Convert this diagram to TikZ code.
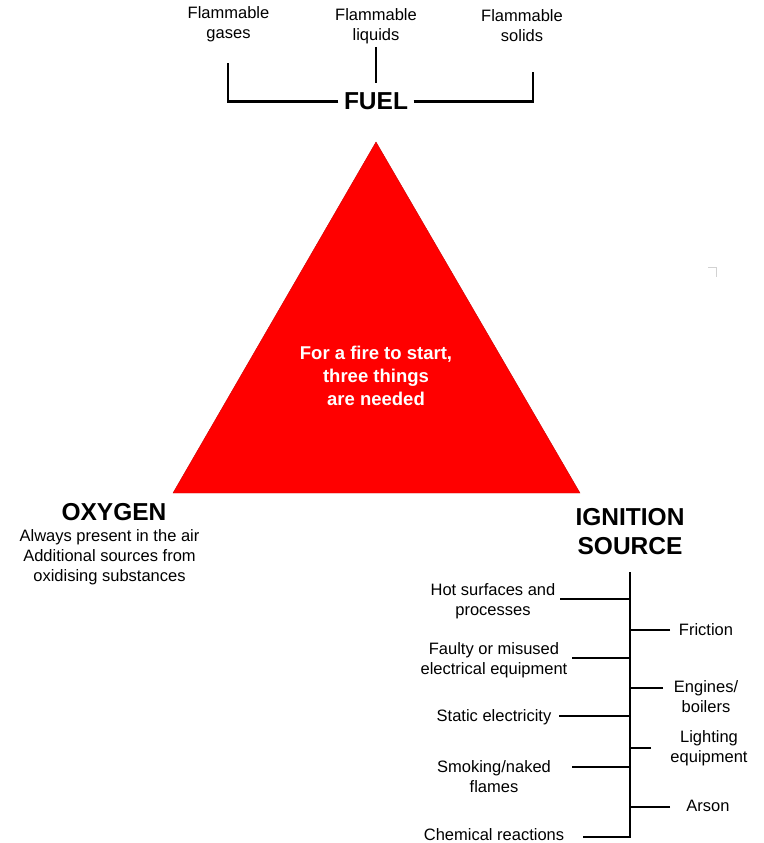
\documentclass[tikz,border=0pt]{standalone}
\usepackage{fontspec}
\setmainfont{Liberation Sans}
\definecolor{firered}{RGB}{255,0,0}
\begin{document}
\begin{tikzpicture}[
        x=1pt, y=-1pt,
        itemtext/.style={
            align=center,
            inner sep=1pt,
            font=\fontsize{16.5}{20}\selectfont
        },
        heading/.style={
            align=center,
            inner sep=5.5pt,
            font=\fontsize{24.5}{29}\selectfont\bfseries
        },
        inside/.style={
            align=center,
            text=white,
            font=\fontsize{18.5}{23}\selectfont\bfseries
        },
        bar/.style={line width=2.8pt, line join=miter}
    ]

    \useasboundingbox (0,0) rectangle (763,843);

    \coordinate (apex) at (376,142);
    \coordinate (oxycorner) at (173,493);
    \coordinate (igncorner) at (580,493);
    \fill[firered, draw=firered!80!black, line width=0.4pt] (apex) -- (oxycorner) -- (igncorner) -- cycle;

    \node[inside] (needed) at (376,376)
        {For a fire to start,\\three things\\are needed};

    \node[heading] (fuel) at (376,101.5) {FUEL};
    \node[itemtext] (gases) at (228.5,24) {Flammable\\gases};
    \node[itemtext] (liquids) at (376,26) {Flammable\\liquids};
    \node[itemtext] (solids) at (522,26) {Flammable\\solids};

    \coordinate (gasesend) at (228,63);
    \coordinate (liquidsend) at (376,47);
    \coordinate (liquidsfoot) at (376,83);
    \coordinate (solidsend) at (533,72);

    \draw[bar] (fuel.west) -| (gasesend);
    \draw[bar] (fuel.east) -| (solidsend);
    \draw[bar] (liquidsend) -- (liquidsfoot);

    \node[heading] (oxygen) at (114,512) {OXYGEN};
    \node[itemtext] (oxysources) at (109.5,557)
        {Always present in the air\\Additional sources from\\oxidising substances};

    \node[heading] (ignition) at (630,531.5) {IGNITION\\SOURCE};

    \coordinate (trunktop) at (630,572);
    \coordinate (trunkfoot) at (630,838);

    \node[itemtext] (hot) at (493,601.5) {Hot surfaces and\\processes};
    \node[itemtext] (faulty) at (494,660) {Faulty or misused\\electrical equipment};
    \node[itemtext] (static) at (494,717) {Static electricity};
    \node[itemtext] (smoking) at (494,777) {Smoking/naked\\flames};
    \node[itemtext] (chemical) at (494,835) {Chemical reactions};

    \node[itemtext] (friction) at (706,630) {Friction};
    \node[itemtext] (engines) at (706,697) {Engines/\\boilers};
    \node[itemtext] (lighting) at (709,748) {Lighting\\equipment};
    \node[itemtext] (arson) at (708,806) {Arson};

    \coordinate (hotend) at (560,599);
    \coordinate (faultyend) at (572,658);
    \coordinate (staticend) at (559,716);
    \coordinate (smokingend) at (572,767);
    \coordinate (chemicalend) at (583,837);
    \coordinate (frictionend) at (670,630);
    \coordinate (enginesend) at (663,688);
    \coordinate (lightingend) at (651,748);
    \coordinate (arsonend) at (670,807);

    \draw[bar] (trunktop) -- (trunkfoot);
    \draw[bar] (hotend) -- (hotend -| trunktop);
    \draw[bar] (faultyend) -- (faultyend -| trunktop);
    \draw[bar] (staticend) -- (staticend -| trunktop);
    \draw[bar] (smokingend) -- (smokingend -| trunktop);
    \draw[bar] (chemicalend) -- (chemicalend -| trunktop);
    \draw[bar] (frictionend) -- (frictionend -| trunktop);
    \draw[bar] (enginesend) -- (enginesend -| trunktop);
    \draw[bar] (lightingend) -- (lightingend -| trunktop);
    \draw[bar] (arsonend) -- (arsonend -| trunktop);

    \draw[gray!35, line width=1pt] (708,267.5) -- (716,267.5) -- (716,277);

\end{tikzpicture}
\end{document}
